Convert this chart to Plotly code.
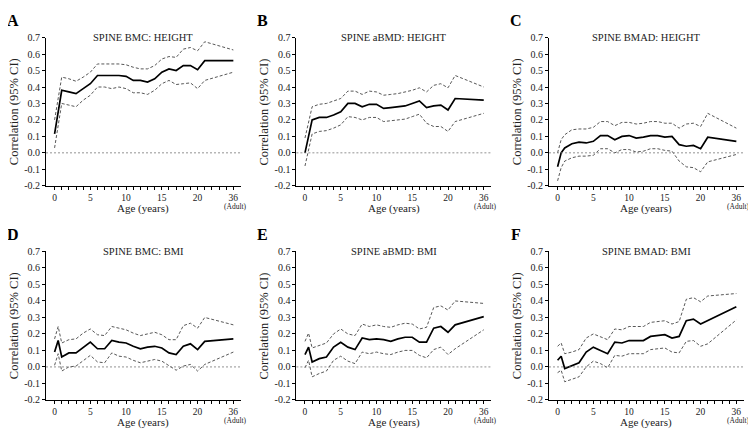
import plotly.graph_objects as go

# The page body has an 8px default margin, so the figure is drawn 8px in from the
# window's top-left corner; all pixel positions below are window pixels minus OFF.
OFF = 8
W, H = 756 - OFF, 437 - OFF

# ---------------- data ----------------
# x positions: ages in years; the adult measurement (36 y) is drawn at axis position 25
ADULT_POS = 25
ages_a = [0, 1, 2, 3, 4, 5, 6, 7, 8, 9, 10, 11, 12, 13, 14, 15, 16, 17, 18, 19, 20, 21, ADULT_POS]
ages_b = [0, 0.5, 1, 2, 3, 4, 5, 6, 7, 8, 9, 10, 11, 12, 13, 14, 15, 16, 17, 18, 19, 20, 21, ADULT_POS]

titles = ["SPINE BMC: HEIGHT", "SPINE aBMD: HEIGHT", "SPINE BMAD: HEIGHT",
          "SPINE BMC: BMI", "SPINE aBMD: BMI", "SPINE BMAD: BMI"]
letters = ["A", "B", "C", "D", "E", "F"]

A_r = [0.115, 0.38, 0.37, 0.36, 0.39, 0.42, 0.47, 0.47, 0.47, 0.47, 0.465, 0.44, 0.44, 0.43, 0.45, 0.49, 0.51, 0.50, 0.53, 0.53, 0.505, 0.56, 0.56]
A_hi = [0.2, 0.46, 0.45, 0.435, 0.46, 0.49, 0.54, 0.54, 0.54, 0.54, 0.535, 0.52, 0.51, 0.51, 0.53, 0.57, 0.585, 0.58, 0.63, 0.64, 0.62, 0.675, 0.625]
A_lo = [0.03, 0.30, 0.29, 0.28, 0.32, 0.35, 0.40, 0.40, 0.39, 0.40, 0.39, 0.365, 0.365, 0.355, 0.38, 0.42, 0.44, 0.415, 0.42, 0.425, 0.39, 0.44, 0.49]

B_r = [0.0, 0.20, 0.215, 0.215, 0.23, 0.25, 0.30, 0.30, 0.28, 0.295, 0.295, 0.27, 0.275, 0.28, 0.285, 0.30, 0.315, 0.275, 0.285, 0.29, 0.26, 0.33, 0.32]
B_hi = [0.09, 0.28, 0.295, 0.30, 0.315, 0.33, 0.375, 0.375, 0.355, 0.375, 0.37, 0.35, 0.355, 0.36, 0.37, 0.38, 0.395, 0.37, 0.41, 0.42, 0.395, 0.47, 0.40]
B_lo = [-0.08, 0.115, 0.13, 0.135, 0.15, 0.17, 0.22, 0.215, 0.20, 0.215, 0.215, 0.19, 0.195, 0.20, 0.205, 0.22, 0.235, 0.18, 0.16, 0.16, 0.13, 0.19, 0.24]

C_r = [-0.085, 0.0, 0.03, 0.055, 0.065, 0.06, 0.07, 0.105, 0.105, 0.08, 0.10, 0.105, 0.09, 0.095, 0.105, 0.105, 0.095, 0.10, 0.05, 0.04, 0.045, 0.025, 0.095, 0.07]
C_hi = [0.0, 0.08, 0.11, 0.14, 0.145, 0.145, 0.155, 0.19, 0.19, 0.165, 0.185, 0.185, 0.175, 0.18, 0.19, 0.19, 0.18, 0.18, 0.15, 0.175, 0.18, 0.16, 0.24, 0.15]
C_lo = [-0.17, -0.09, -0.05, -0.03, -0.02, -0.02, -0.015, 0.025, 0.025, 0.0, 0.02, 0.02, 0.005, 0.01, 0.025, 0.025, 0.015, 0.01, -0.05, -0.085, -0.09, -0.115, -0.055, -0.01]

D_r = [0.09, 0.16, 0.06, 0.085, 0.085, 0.12, 0.15, 0.11, 0.11, 0.16, 0.15, 0.145, 0.125, 0.11, 0.12, 0.125, 0.115, 0.085, 0.075, 0.125, 0.14, 0.105, 0.155, 0.17]
D_hi = [0.17, 0.245, 0.145, 0.165, 0.17, 0.205, 0.23, 0.195, 0.19, 0.245, 0.235, 0.225, 0.205, 0.19, 0.20, 0.21, 0.195, 0.165, 0.165, 0.25, 0.265, 0.235, 0.30, 0.255]
D_lo = [0.01, 0.08, -0.025, 0.0, 0.005, 0.04, 0.07, 0.03, 0.025, 0.085, 0.065, 0.06, 0.04, 0.025, 0.035, 0.045, 0.035, 0.005, -0.02, 0.005, 0.015, -0.025, 0.015, 0.09]

E_r = [0.075, 0.12, 0.03, 0.05, 0.06, 0.12, 0.15, 0.12, 0.105, 0.175, 0.165, 0.17, 0.165, 0.155, 0.17, 0.18, 0.18, 0.15, 0.15, 0.235, 0.245, 0.21, 0.255, 0.305]
E_hi = [0.155, 0.205, 0.115, 0.13, 0.145, 0.2, 0.23, 0.2, 0.19, 0.26, 0.245, 0.255, 0.245, 0.24, 0.255, 0.265, 0.26, 0.23, 0.24, 0.36, 0.37, 0.345, 0.40, 0.385]
E_lo = [-0.005, 0.04, -0.06, -0.04, -0.025, 0.04, 0.065, 0.035, 0.02, 0.09, 0.08, 0.09, 0.08, 0.075, 0.09, 0.10, 0.10, 0.07, 0.055, 0.105, 0.12, 0.075, 0.11, 0.225]

F_r = [0.04, 0.065, -0.01, 0.01, 0.025, 0.09, 0.12, 0.1, 0.08, 0.15, 0.145, 0.16, 0.16, 0.16, 0.185, 0.19, 0.195, 0.175, 0.185, 0.28, 0.29, 0.26, 0.28, 0.365]
F_hi = [0.125, 0.145, 0.08, 0.09, 0.105, 0.175, 0.2, 0.18, 0.165, 0.23, 0.225, 0.245, 0.245, 0.245, 0.27, 0.275, 0.28, 0.26, 0.275, 0.41, 0.42, 0.395, 0.43, 0.445]
F_lo = [-0.035, -0.02, -0.09, -0.075, -0.06, 0.0, 0.035, 0.02, -0.005, 0.07, 0.065, 0.08, 0.08, 0.08, 0.105, 0.11, 0.115, 0.09, 0.085, 0.155, 0.16, 0.125, 0.14, 0.285]

panels = [
    (ages_a, A_r, A_lo, A_hi),
    (ages_a, B_r, B_lo, B_hi),
    (ages_b, C_r, C_lo, C_hi),
    (ages_b, D_r, D_lo, D_hi),
    (ages_b, E_r, E_lo, E_hi),
    (ages_b, F_r, F_lo, F_hi),
]

y_tickvals = [-0.2, -0.1, 0.0, 0.1, 0.2, 0.3, 0.4, 0.5, 0.6, 0.7]
y_ticktext = ["-0.2", "-0.1", "0.0", "0.1", "0.2", "0.3", "0.4", "0.5", "0.6", "0.7"]
x_tickvals = list(range(0, 26))
x_labels = {0: "0", 5: "5", 10: "10", 15: "15", 20: "20", ADULT_POS: "36"}
x_ticktext = [x_labels.get(v, "") for v in x_tickvals]

# ---------------- layout geometry (window pixels) ----------------
FONT = "Liberation Serif, Times New Roman, serif"
TXT = "#222222"
col_x0 = [46, 296.4, 549]      # left edge of plot area (px)
col_w = 194.5
row_top = [32.3, 252.3]        # px of y=0.7
row_bot = [184.7, 405.0]       # px of y=-0.2
XR = [-1.2, 26]


def px(x):
    return (x - OFF) / W


def py(y):
    return 1 - (y - OFF) / H


fig = go.Figure()
layout = dict(
    width=W, height=H, margin=dict(l=0, r=0, t=0, b=0),
    paper_bgcolor="white", plot_bgcolor="white", showlegend=False,
    font=dict(family=FONT, color=TXT),
)
annotations = []
shapes = []

for i, (ages, r, lo, hi) in enumerate(panels):
    row, col = divmod(i, 3)
    n = i + 1
    xa = "x" if n == 1 else f"x{n}"
    ya = "y" if n == 1 else f"y{n}"
    for vals, dash, color, width in ((hi, "3px,2px", "#444444", 0.9),
                                     (lo, "3px,2px", "#444444", 0.9),
                                     (r, "solid", "#000000", 1.7)):
        fig.add_trace(go.Scatter(x=ages, y=vals, mode="lines", xaxis=xa, yaxis=ya,
                                 line=dict(color=color, width=width, dash=dash),
                                 hoverinfo="skip"))
    layout["xaxis" if n == 1 else f"xaxis{n}"] = dict(
        domain=[px(col_x0[col]), px(col_x0[col] + col_w)], range=XR, anchor=ya,
        showgrid=False, zeroline=False,
        showline=True, linecolor="#000", linewidth=1,
        ticks="outside", ticklen=3, tickwidth=1, tickcolor="#000",
        tickmode="array", tickvals=x_tickvals, ticktext=x_ticktext,
        tickfont=dict(size=9.5, family=FONT, color=TXT), tickangle=0,
    )
    layout["yaxis" if n == 1 else f"yaxis{n}"] = dict(
        domain=[py(row_bot[row]), py(row_top[row])], range=[-0.2, 0.7], anchor=xa,
        showgrid=False, zeroline=False,
        showline=True, linecolor="#000", linewidth=1,
        ticks="outside", ticklen=3, tickwidth=1, tickcolor="#000",
        tickmode="array", tickvals=y_tickvals, ticktext=y_ticktext,
        tickfont=dict(size=10, family=FONT, color=TXT),
    )
    # dotted zero reference line
    shapes.append(dict(type="line", xref=f"{xa} domain", yref=ya, x0=0, x1=1, y0=0, y1=0,
                       line=dict(color="#777777", width=0.8, dash="2px,2px")))
    # panel title
    annotations.append(dict(text=titles[i], xref=f"{xa} domain", yref="paper", x=0.5,
                            y=py(row_top[row]), xanchor="center", yanchor="middle",
                            showarrow=False, font=dict(size=10.5, family=FONT, color=TXT)))
    # panel letter
    annotations.append(dict(text=f"<b>{letters[i]}</b>", xref="paper", yref="paper",
                            x=px(col_x0[col] - 33.5), y=py(row_top[row] - 17.8),
                            xanchor="center", yanchor="middle", showarrow=False,
                            font=dict(size=16, family=FONT, color="#000")))
    # y title
    annotations.append(dict(text="Correlation (95% CI)", xref="paper", yref="paper",
                            x=px(col_x0[col] - 32.5),
                            y=py((row_top[row] + row_bot[row]) / 2),
                            xanchor="center", yanchor="middle", textangle=-90,
                            showarrow=False, font=dict(size=12.5, family=FONT, color=TXT)))
    # x title
    annotations.append(dict(text="Age (years)", xref=f"{xa} domain", yref="paper", x=0.5,
                            y=py(row_bot[row] + 23.5), xanchor="center", yanchor="middle",
                            showarrow=False, font=dict(size=11, family=FONT, color=TXT)))
    # (Adult) under the 36 tick
    annotations.append(dict(text="(Adult)", xref=xa, yref="paper", x=ADULT_POS + 0.3,
                            y=py(row_bot[row] + 21.5), xanchor="center", yanchor="middle",
                            showarrow=False, font=dict(size=7.5, family=FONT, color=TXT)))

layout["annotations"] = annotations
layout["shapes"] = shapes
fig.update_layout(**layout)
fig.write_html("out.html")
